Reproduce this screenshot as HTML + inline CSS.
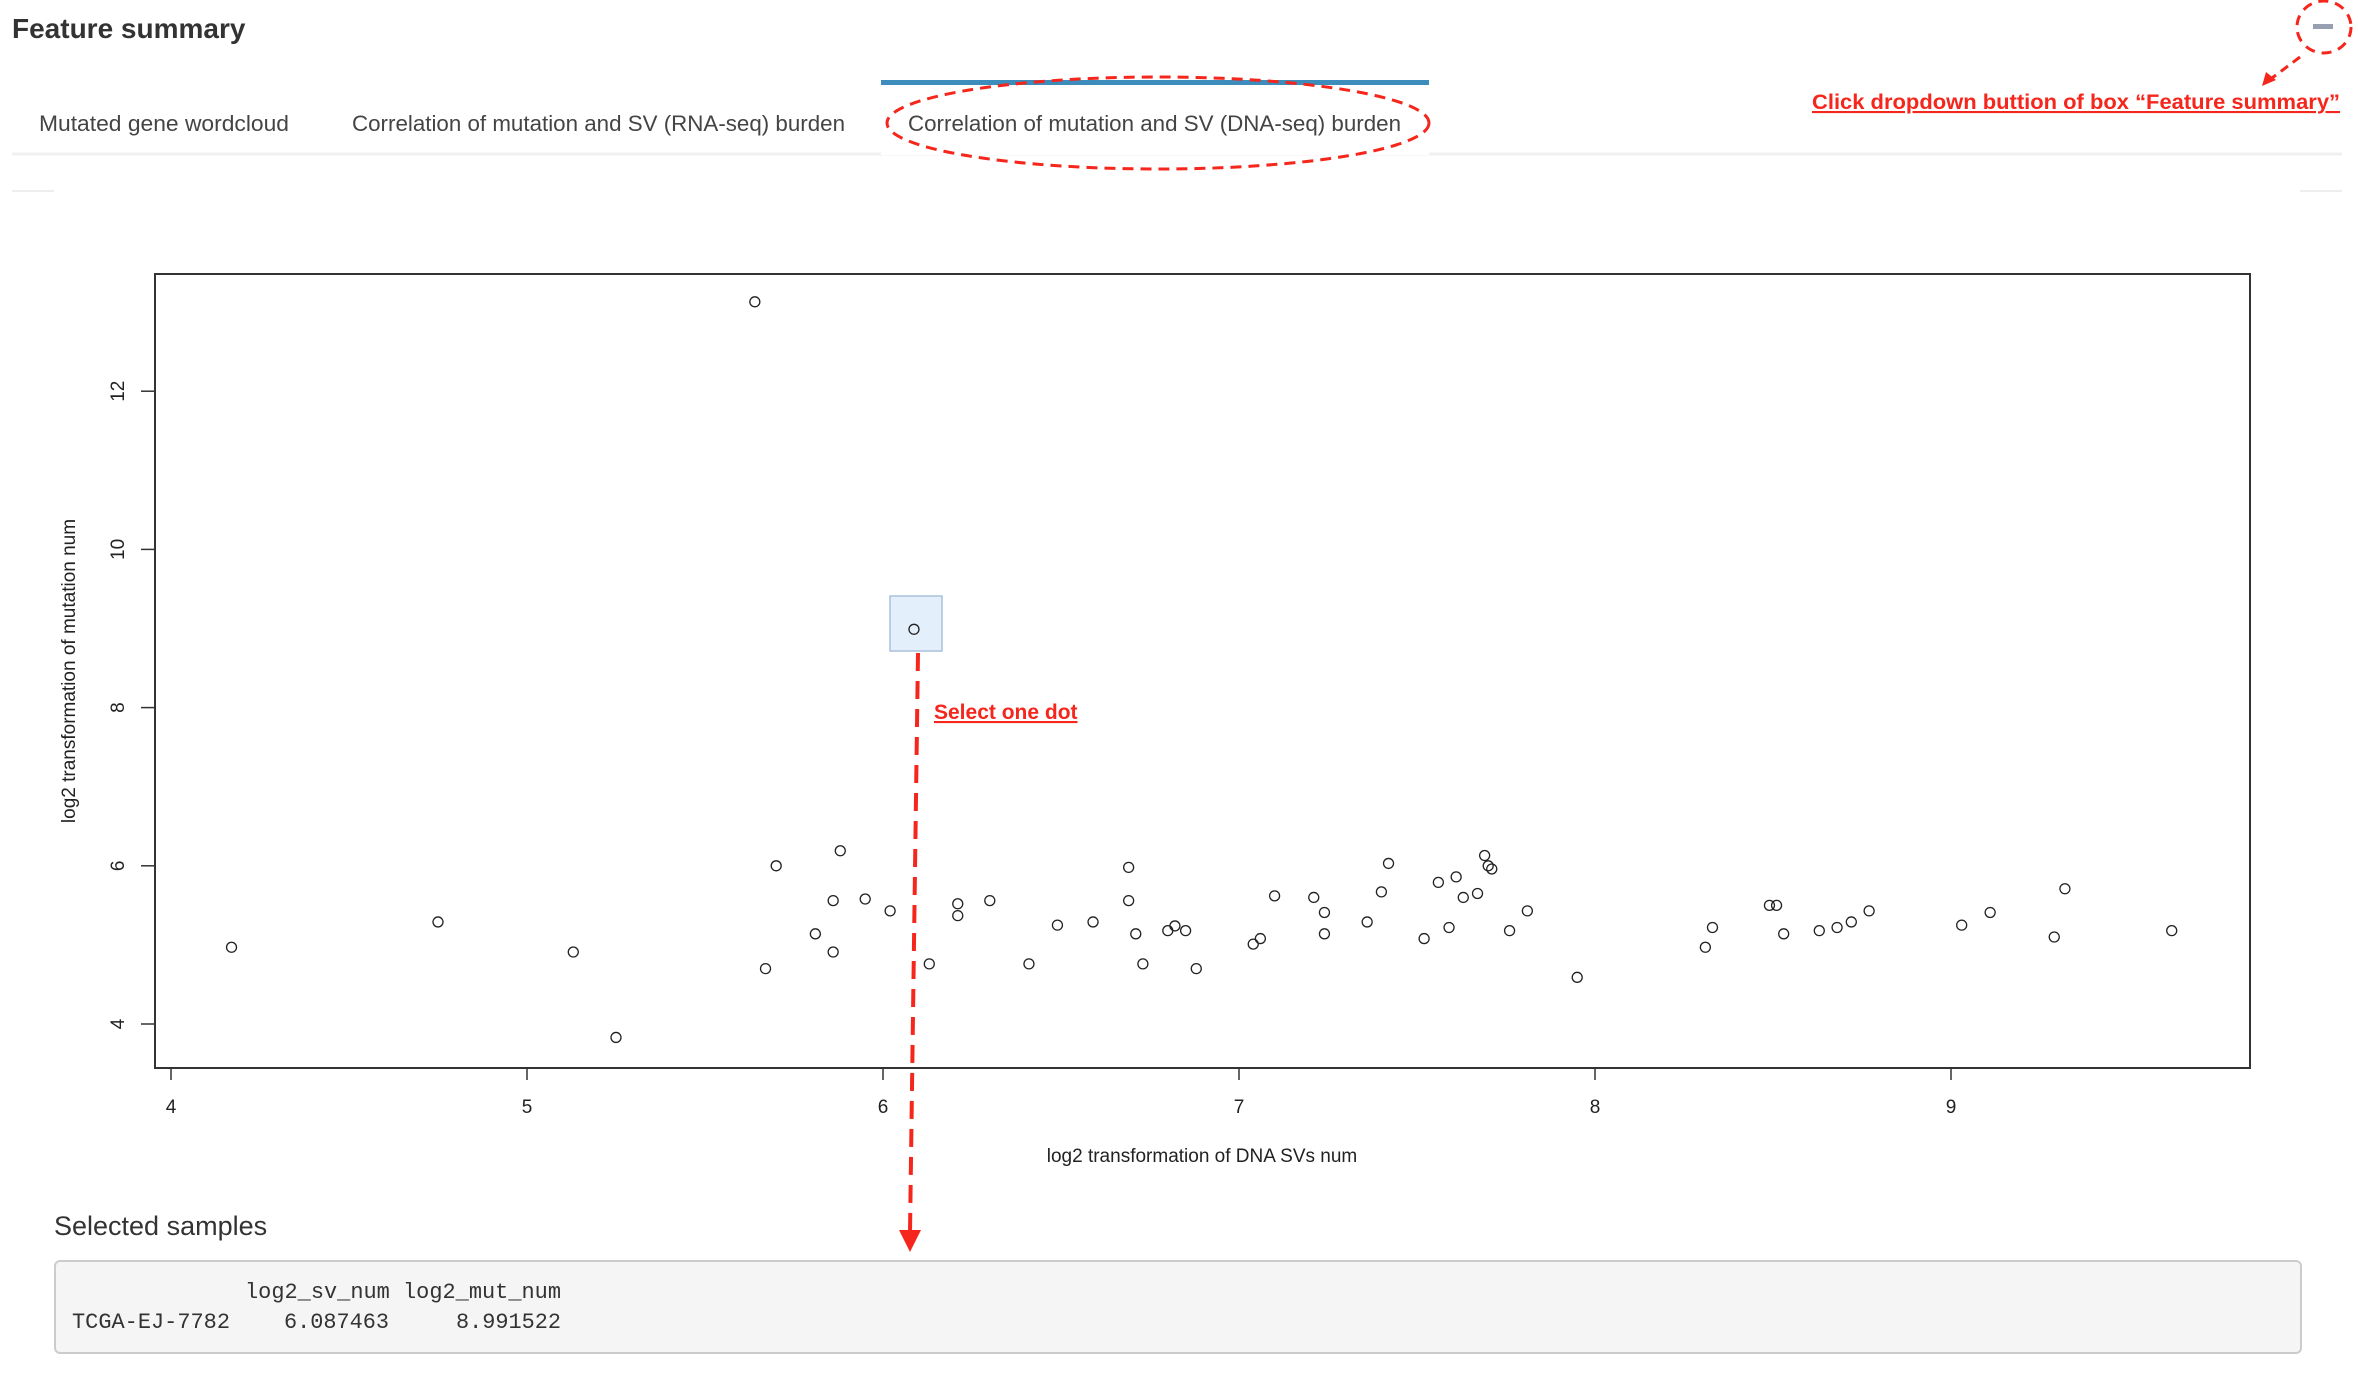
<!DOCTYPE html>
<html><head><meta charset="utf-8"><style>
html,body{margin:0;padding:0;background:#fff;width:2358px;height:1376px;overflow:hidden}
svg{display:block}
</style></head><body>
<svg id="root" width="2358" height="1376" xmlns="http://www.w3.org/2000/svg" font-family="'Liberation Sans', sans-serif">
<text x="12" y="38" font-size="28" font-weight="bold" fill="#333">Feature summary</text>
<rect x="2313" y="24" width="20" height="5" fill="#97a0b3"/>
<ellipse cx="2324" cy="27" rx="27" ry="26" fill="none" stroke="#f5261c" stroke-width="3" stroke-dasharray="10,7"/>
<line x1="2300" y1="57" x2="2272" y2="78" stroke="#f5261c" stroke-width="3" stroke-dasharray="9,6"/>
<polygon points="2262,86 2266,72 2276,80" fill="#f5261c"/>
<text x="2340" y="109" text-anchor="end" font-size="21" font-weight="bold" fill="#f5261c" text-decoration="underline" textLength="528" lengthAdjust="spacingAndGlyphs">Click dropdown buttion of box “Feature summary”</text>
<line x1="12" y1="154" x2="2342" y2="154" stroke="#f0f0f0" stroke-width="3"/>
<rect x="881" y="81" width="548" height="74" fill="#fff"/>
<rect x="881" y="80" width="548" height="5" fill="#3c8dbc"/>
<g font-size="22" fill="#444">
<text x="39" y="131" textLength="250" lengthAdjust="spacingAndGlyphs">Mutated gene wordcloud</text>
<text x="352" y="131" textLength="493" lengthAdjust="spacingAndGlyphs">Correlation of mutation and SV (RNA-seq) burden</text>
<text x="908" y="131" textLength="493" lengthAdjust="spacingAndGlyphs">Correlation of mutation and SV (DNA-seq) burden</text>
</g>
<ellipse cx="1158" cy="123" rx="271" ry="46" fill="none" stroke="#f5261c" stroke-width="3" stroke-dasharray="11,7"/>
<line x1="12" y1="191" x2="54" y2="191" stroke="#eee" stroke-width="2"/>
<line x1="2300" y1="191" x2="2342" y2="191" stroke="#eee" stroke-width="2"/>
<rect x="890" y="596" width="52" height="55" fill="#e4effc" stroke="#a9c0dc" stroke-width="1.5"/>
<g id="chart"></g>
<line x1="918" y1="653" x2="910" y2="1232" stroke="#f5261c" stroke-width="4" stroke-dasharray="18,10"/>
<polygon points="899,1230 921,1230 910,1252" fill="#f5261c"/>
<text x="934" y="719" font-size="21" font-weight="bold" fill="#f5261c" text-decoration="underline">Select one dot</text>
<text x="54" y="1235" font-size="27" fill="#333">Selected samples</text>
<rect x="55" y="1261" width="2246" height="92" rx="5" fill="#f5f5f5" stroke="#ccc" stroke-width="2"/>
<g font-family="'Liberation Mono', monospace" font-size="22" fill="#333">
<text x="245" y="1298" textLength="316" lengthAdjust="spacingAndGlyphs">log2_sv_num log2_mut_num</text>
<text x="72" y="1328" textLength="158" lengthAdjust="spacingAndGlyphs">TCGA-EJ-7782</text>
<text x="284" y="1328" textLength="105" lengthAdjust="spacingAndGlyphs">6.087463</text>
<text x="456" y="1328" textLength="105" lengthAdjust="spacingAndGlyphs">8.991522</text>
</g>
</svg>
<script>
const svLog = [4.17,4.75,5.13,5.25,5.64,5.67,5.70,5.81,5.86,5.86,5.88,5.95,6.02,6.087,6.13,6.21,6.21,6.30,6.41,6.49,6.59,6.69,6.69,6.71,6.73,6.80,6.82,6.85,6.88,7.04,7.06,7.10,7.21,7.24,7.24,7.36,7.40,7.42,7.52,7.56,7.59,7.61,7.63,7.67,7.69,7.70,7.71,7.76,7.81,7.95,8.31,8.33,8.49,8.51,8.53,8.63,8.68,8.72,8.77,9.03,9.11,9.29,9.32,9.62];
const mutLog = [4.97,5.29,4.91,3.83,13.13,4.70,6.00,5.14,5.56,4.91,6.19,5.58,5.43,8.99,4.76,5.52,5.37,5.56,4.76,5.25,5.29,5.98,5.56,5.14,4.76,5.18,5.24,5.18,4.70,5.01,5.08,5.62,5.60,5.41,5.14,5.29,5.67,6.03,5.08,5.79,5.22,5.86,5.60,5.65,6.13,6.00,5.96,5.18,5.43,4.59,4.97,5.22,5.50,5.50,5.14,5.18,5.22,5.29,5.43,5.25,5.41,5.10,5.71,5.18];
const xTicks = [4,5,6,7,8,9];
const yTicks = [4,6,8,10,12];
const NS='http://www.w3.org/2000/svg';
const g=document.getElementById('chart');
const X=v=>171+(v-4)*356;
const Y=v=>1024-(v-4)*79.1;
function mk(t,a,p){const e=document.createElementNS(NS,t);for(const k in a)e.setAttribute(k,a[k]);(p||g).appendChild(e);return e;}
const frame=mk('rect',{x:155,y:274,width:2095,height:794,fill:'none',stroke:'#333','stroke-width':2});


xTicks.forEach(t=>{
  const l=mk('line',{x1:X(t),y1:1068,x2:X(t),y2:1080,stroke:'#333','stroke-width':1.5});
  
  
  const tx=mk('text',{x:X(t),y:1113,'text-anchor':'middle','font-size':19,fill:'#222'});
  tx.textContent=t;
  
  
});
yTicks.forEach(t=>{
  const l=mk('line',{x1:155,y1:Y(t),x2:141,y2:Y(t),stroke:'#333','stroke-width':1.5});
  
  
  const tx=mk('text',{x:0,y:0,'text-anchor':'middle','font-size':19,fill:'#222',transform:`translate(124,${Y(t)}) rotate(-90)`});
  tx.textContent=t;
  
  
});
const xl=mk('text',{x:1202,y:1162,'text-anchor':'middle','font-size':19,fill:'#222'});
xl.textContent='log2 transformation of DNA SVs num';


const yl=mk('text',{x:0,y:0,'text-anchor':'middle','font-size':19,fill:'#222',transform:'translate(75,671) rotate(-90)'});
yl.textContent='log2 transformation of mutation num';


svLog.forEach((v,i)=>{
  const c=mk('circle',{cx:X(v),cy:Y(mutLog[i]),r:5,fill:'none',stroke:'#222','stroke-width':1.3});
  
  
});
</script>
</body></html>
